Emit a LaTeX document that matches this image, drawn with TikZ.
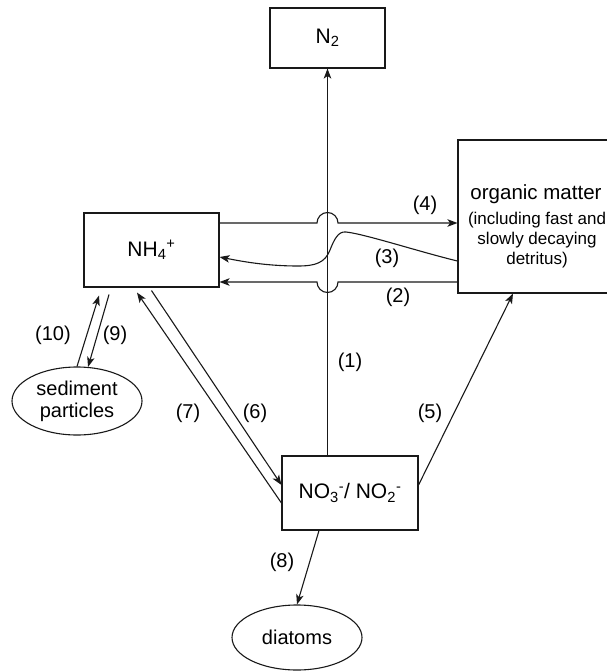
\documentclass[tikz,border=0pt]{standalone}
\usepackage{fontspec}
\setmainfont{Liberation Sans}
\usetikzlibrary{arrows.meta,shapes.geometric,calc}
\tikzset{
	pool/.style 2 args={draw=black!90,line width=1.1pt,minimum width=#1,minimum height=#2,inner sep=0pt,font=\fontsize{21}{24}\selectfont},
	blob/.style={draw=black!90,line width=1.1pt,ellipse,minimum width=130pt,minimum height=68pt,inner sep=0pt,align=center,font=\fontsize{20}{22}\selectfont},
	flux/.style={draw=black!90,line width=1.1pt,-{Stealth[length=10pt,width=7.5pt,inset=2.5pt]}},
	lab/.style={font=\fontsize{20}{22}\selectfont}
}

\begin{document}
\begin{tikzpicture}[x=1pt,y=-1pt]
	\useasboundingbox (0,0) rectangle (606,671);
	\node [pool={115pt}{60pt}] (n2) at (327.5,38) {N\textsubscript{2}};
	\node [pool={135pt}{74pt}] (nh4) at (151.5,250) {NH\textsubscript{4}\textsuperscript{+}};
	\node [pool={136pt}{74pt}] (no3) at (350,493) {NO\textsubscript{3}\textsuperscript{-}/ NO\textsubscript{2}\textsuperscript{-}};
	\node [pool={155pt}{153pt}] (om) at (535.5,216.5) {};
	\node [font=\fontsize{20.5}{24}\selectfont] (omhead) at (536,194) {organic matter};
	\node [align=center,font=\fontsize{17}{20}\selectfont] (omnote) at (537,240) {(including fast and\\slowly decaying\\detritus)};
	\node [blob] (sed) at (77,401) {sediment\\particles};
	\node [blob,minimum height=65pt] (dia) at (297,637.5) {diatoms};

	\coordinate (s4) at ([yshift=27pt]nh4.east);
	\coordinate (s2) at ([yshift=-65.5pt]om.west);
	\draw [flux] (n2.south |- no3.north) -- (n2.south);
	\draw [flux] (s4) -- ($(n2.south |- s4)+(-10.5,0)$) arc [start angle=180,end angle=0,radius=10.5pt] -- (om.west |- s4);
	\draw [flux] (s2) -- ($(n2.south |- s2)+(10.5,0)$) arc [start angle=0,end angle=-180,radius=10.5pt] -- (nh4.east |- s2);
	\draw [flux] ([yshift=-44.5pt]om.west) .. controls (420,252) and (365,234) .. (346,232) .. controls (338,231) and (334,240) .. (330,250) .. controls (325,263) and (315,266) .. (298,266) .. controls (265,266) and (240,261) .. ([yshift=-7pt]nh4.east);
	\draw [flux] ([yshift=8pt]no3.east) -- ([xshift=-22.5pt]om.south);
	\draw [flux] ([yshift=-3pt]nh4.south) -- ([yshift=8pt]no3.west);
	\draw [flux] ([yshift=-10pt]no3.west) -- ([xshift=-14.5pt,yshift=-5pt]nh4.south);
	\draw [flux] ([xshift=-31pt]no3.south) -- (dia.north);
	\draw [flux] ([xshift=-42.5pt,yshift=-7pt]nh4.south) -- (sed.72);
	\draw [flux] (sed.north) -- ([xshift=-52.5pt,yshift=-8pt]nh4.south);

	\node [lab] (l1) at (350,362) {(1)};
	\node [lab] (l2) at (398,297) {(2)};
	\node [lab] (l3) at (387,258) {(3)};
	\node [lab] (l4) at (425,205) {(4)};
	\node [lab] (l5) at (430,413) {(5)};
	\node [lab] (l6) at (255,413) {(6)};
	\node [lab] (l7) at (188,413) {(7)};
	\node [lab] (l8) at (282,562) {(8)};
	\node [lab] (l9) at (115,335) {(9)};
	\node [lab] (l10) at (53,335) {(10)};
\end{tikzpicture}
\end{document}
